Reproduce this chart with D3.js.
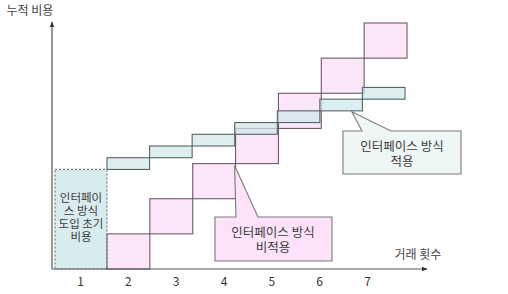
<!DOCTYPE html>
<html><head><meta charset="utf-8">
<script src="https://cdn.jsdelivr.net/npm/d3@7"></script>
<style>
html,body{margin:0;padding:0;background:#fff;}
text{font-family:"Noto Sans CJK KR","Noto Sans",sans-serif;}
</style></head>
<body><svg id="c" width="508" height="294"></svg>
<script>
// ---- data ----
const transactions = [1, 2, 3, 4, 5, 6, 7];          // step index of each bar
const tickLabels = ["1", "2", "3", "4", "5", "6", "7"];
const initialCost = 8.5;                                // interface setup cost
const interfaceCostPerTx = [1, 1, 1, 1, 1, 1, 1];       // interface applied
const directCostPerTx = [3, 3, 3, 3, 3, 3, 3];          // interface not applied
const yAxisTitle = "누적 비용";
const xAxisTitle = "거래 횟수";
const initLabel = ["인터페이", "스 방식", "도입 초기", "비용"];
const calloutApplied = ["인터페이스 방식", "적용"];
const calloutNot = ["인터페이스 방식", "비적용"];

const svg = d3.select("#c");
const xP = d3.scaleLinear().domain([1, 8]).range([107, 407]);
const xT = d3.scaleLinear().domain([1, 8]).range([107, 405]);
const y = d3.scaleLinear().domain([0, 21]).range([269, 23]);
const xTick = d3.scaleLinear().domain([1, 7]).range([80, 367]);

// cumulative
let cumI = initialCost, cumD = 0;
const tealBars = transactions.map((t, i) => { const b = cumI; cumI += interfaceCostPerTx[i]; return {t, y0: b, y1: cumI}; });
const pinkBars = transactions.map((t, i) => { const b = cumD; cumD += directCostPerTx[i]; return {t, y0: b, y1: cumD}; });

function multiline(cx, y0, lines, lh, size) {
  const t = svg.append("text").attr("text-anchor", "middle").attr("font-size", size).attr("fill", "#3a3a3a");
  lines.forEach((l, i) => t.append("tspan").attr("x", cx).attr("y", y0 + i * lh).text(l));
  return t;
}

// initial cost box
svg.append("rect").attr("x", xT(1) - 52).attr("y", y(initialCost))
  .attr("width", 52).attr("height", y(0) - y(initialCost))
  .attr("fill", "#d8ecee").attr("stroke", "#6f7c7c").attr("stroke-width", 1.2)
  .attr("stroke-dasharray", "2,2");
multiline(xT(1) - 26, y(initialCost) + 33, initLabel, 13, 11.5);

// pink squares (no interface)
svg.append("g").selectAll("rect").data(pinkBars).join("rect")
  .attr("x", d => xP(d.t)).attr("y", d => y(d.y1))
  .attr("width", d => xP(d.t + 1) - xP(d.t)).attr("height", d => y(d.y0) - y(d.y1))
  .attr("fill", "#fbdcf8").attr("fill-opacity", 0.7)
  .attr("stroke", "#6e5a6c").attr("stroke-width", 1.1);

// teal bars (interface)
svg.append("g").selectAll("rect").data(tealBars).join("rect")
  .attr("x", d => xT(d.t)).attr("y", d => y(d.y1))
  .attr("width", d => xT(d.t + 1) - xT(d.t)).attr("height", d => y(d.y0) - y(d.y1))
  .attr("fill", "#cfe7ea").attr("fill-opacity", 0.7)
  .attr("stroke", "#566464").attr("stroke-width", 1.1);

// axes
const defs = svg.append("defs");
defs.append("marker").attr("id", "arr").attr("viewBox", "0 0 10 10").attr("refX", 9).attr("refY", 5)
  .attr("markerWidth", 5).attr("markerHeight", 5).attr("orient", "auto")
  .append("path").attr("d", "M0,1 L10,5 L0,9 z").attr("fill", "#333");
svg.append("line").attr("x1", 52).attr("y1", y(0)).attr("x2", 52).attr("y2", y(21) - 1)
  .attr("stroke", "#555").attr("stroke-width", 1.2).attr("marker-end", "url(#arr)");
svg.append("line").attr("x1", 52).attr("y1", y(0)).attr("x2", 427).attr("y2", y(0))
  .attr("stroke", "#555").attr("stroke-width", 1.2).attr("marker-end", "url(#arr)");

const xa = svg.append("g").attr("transform", `translate(0,${y(0) + 5})`)
  .call(d3.axisBottom(xTick).tickValues(transactions).tickFormat((d, i) => tickLabels[i]).tickSize(0));
xa.select(".domain").remove();
xa.selectAll("text").attr("font-size", 12).attr("fill", "#333")
  .style("font-family", '"Noto Sans CJK KR", sans-serif');

svg.append("text").attr("x", 30).attr("y", 15).attr("text-anchor", "middle")
  .attr("font-size", 12).attr("fill", "#444").text(yAxisTitle);
svg.append("text").attr("x", 418).attr("y", 259).attr("text-anchor", "middle")
  .attr("font-size", 12).attr("fill", "#444").text(xAxisTitle);

// callouts
function callout(bx, by, bw, bh, tip, b0, b1, fill, lines, cx, ly) {
  const p = `M${bx},${by} L${b0},${by} L${tip[0]},${tip[1]} L${b1},${by} L${bx + bw},${by} L${bx + bw},${by + bh} L${bx},${by + bh} Z`;
  svg.append("path").attr("d", p).attr("fill", fill).attr("stroke", "#7b7b7b").attr("stroke-width", 1.1);
  multiline(cx, ly, lines, 15, 12.5);
}
const ta = tealBars[5];
callout(343, 131, 118, 43, [xT(ta.t) + 32, y(ta.y0) + 1], 362, 391, "#eff6f6", calloutApplied, 402, 151);
const pa = pinkBars[2];
callout(215, 217, 117, 44, [xP(pa.t + 1) - 1, y(pa.y1) + 2], 236, 258, "#fce3fa", calloutNot, 273, 237);
</script></body></html>
